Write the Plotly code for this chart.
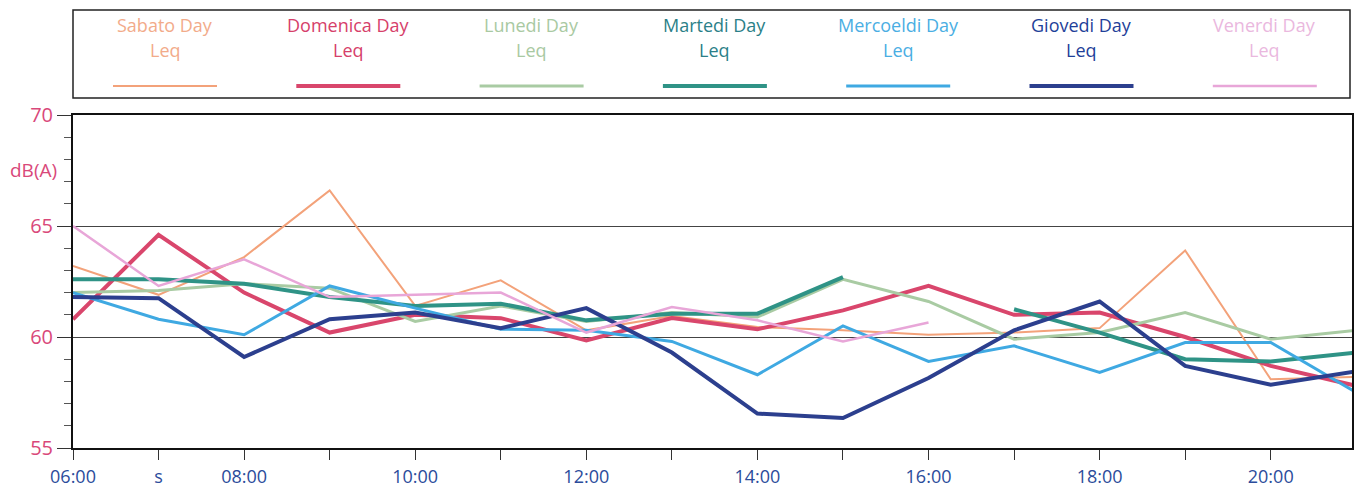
import plotly.graph_objects as go

hours = [6, 7, 8, 9, 10, 11, 12, 13, 14, 15, 16, 17, 18, 19, 20, 21]
tick_vals = [6, 7, 8, 9, 10, 11, 12, 13, 14, 15, 16, 17, 18, 19, 20]
tick_text = ["06:00", "s", "08:00", "", "10:00", "", "12:00", "", "14:00", "", "16:00", "", "18:00", "", "20:00"]

series_names = ["Sabato Day", "Domenica Day", "Lunedi Day", "Martedi Day",
                "Mercoeldi Day", "Giovedi Day", "Venerdi Day"]

sabato = [63.2, 61.9, 63.6, 66.6, 61.4, 62.55, 60.3, 60.95, 60.45, 60.3, 60.1, 60.2, 60.4, 63.9, 58.1, 58.2]
domenica = [60.8, 64.6, 62.0, 60.2, 61.0, 60.85, 59.85, 60.85, 60.35, 61.2, 62.3, 61.0, 61.1, 60.0, 58.7, 57.8]
lunedi = [62.0, 62.1, 62.4, 62.2, 60.7, 61.4, 60.7, 61.1, 60.9, 62.6, 61.6, 59.9, 60.2, 61.1, 59.9, 60.3]
martedi = [62.6, 62.6, 62.4, 61.8, 61.4, 61.5, 60.75, 61.05, 61.05, 62.7, None, 61.25, 60.2, 59.0, 58.9, 59.3]
mercoledi = [62.0, 60.8, 60.1, 62.3, 61.3, 60.35, 60.3, 59.8, 58.3, 60.5, 58.9, 59.6, 58.4, 59.75, 59.75, 57.5]
giovedi = [61.8, 61.75, 59.1, 60.8, 61.1, 60.4, 61.3, 59.3, 56.55, 56.35, 58.15, 60.3, 61.6, 58.7, 57.85, 58.45]
venerdi = [65.0, 62.3, 63.5, 61.8, 61.9, 62.0, 60.2, 61.35, 60.75, 59.8, 60.65, None, None, None, None, None]

series_values = [sabato, domenica, lunedi, martedi, mercoledi, giovedi, venerdi]
line_colors = ["#f3a27a", "#d9466c", "#a9cba3", "#2f9386", "#3fa9e2", "#2c3f8e", "#e8a6d8"]
line_widths = [2, 4, 3, 4, 3, 4, 2.5]
text_colors = ["#f2ab8a", "#d6406a", "#a9c9a2", "#2b7f88", "#4aaee3", "#1f3f99", "#eab8de"]

fig = go.Figure()
for name, vals, col, w in zip(series_names, series_values, line_colors, line_widths):
    fig.add_trace(go.Scatter(x=hours, y=vals, mode="lines", name=name + " Leq",
                             line=dict(color=col, width=w), connectgaps=False,
                             showlegend=False))

W, H = 1354, 490
ml, mr, mt, mb = 73, 2, 115, 42
pw = W - ml - mr
ph = H - mt - mb

def px_x(px):
    return (px - ml) / pw

def px_y(py):
    return (H - mb - py) / ph

annotations = []
shapes = []
# custom legend box
shapes.append(dict(type="rect", xref="paper", yref="paper",
                   x0=px_x(73), x1=px_x(1350), y0=px_y(98), y1=px_y(10),
                   line=dict(color="#222", width=1.5), fillcolor="rgba(0,0,0,0)"))
for i, (name, tcol, lcol, w) in enumerate(zip(series_names, text_colors, line_colors, line_widths)):
    cx = 165 + i * 183.3
    annotations.append(dict(xref="paper", yref="paper", x=px_x(cx), y=px_y(25),
                            text=name, showarrow=False, xanchor="center", yanchor="middle",
                            font=dict(family="Open Sans", size=18, color=tcol)))
    annotations.append(dict(xref="paper", yref="paper", x=px_x(cx), y=px_y(50),
                            text="Leq", showarrow=False, xanchor="center", yanchor="middle",
                            font=dict(family="Open Sans", size=18, color=tcol)))
    shapes.append(dict(type="line", xref="paper", yref="paper",
                       x0=px_x(cx - 52), x1=px_x(cx + 52), y0=px_y(86), y1=px_y(86),
                       line=dict(color=lcol, width=w)))

annotations.append(dict(xref="paper", yref="paper", x=px_x(33), y=px_y(170),
                        text="dB(A)", showarrow=False, xanchor="center", yanchor="middle",
                        font=dict(family="Open Sans", size=19, color="#d9487a")))

fig.update_layout(
    width=W, height=H,
    margin=dict(l=ml, r=mr, t=mt, b=mb, autoexpand=False),
    paper_bgcolor="white", plot_bgcolor="white",
    annotations=annotations, shapes=shapes,
    xaxis=dict(range=[6, 20.95], tickmode="array", tickvals=tick_vals, ticktext=tick_text,
               ticks="outside", ticklen=10, tickcolor="#333", showgrid=False,
               showline=True, linecolor="#111", linewidth=2, mirror=True, zeroline=False,
               ticklabelstandoff=1, automargin=False,
               tickfont=dict(family="Open Sans", size=18, color="#2b4c9b")),
    yaxis=dict(range=[55, 70], tickmode="array", tickvals=[55, 60, 65, 70],
               ticks="outside", ticklen=14, tickcolor="#333",
               showgrid=True, gridcolor="#444", gridwidth=1,
               showline=True, linecolor="#111", linewidth=2, mirror=True, zeroline=False,
               ticklabelstandoff=0, automargin=False,
               minor=dict(tickmode="linear", dtick=1, ticks="outside", ticklen=7, tickcolor="#555", showgrid=False),
               tickfont=dict(family="Open Sans", size=20, color="#d9487a")),
)

fig.write_html("out.html", config={"displayModeBar": False},
               post_script="document.body.style.margin='0';document.body.style.padding='0';")
